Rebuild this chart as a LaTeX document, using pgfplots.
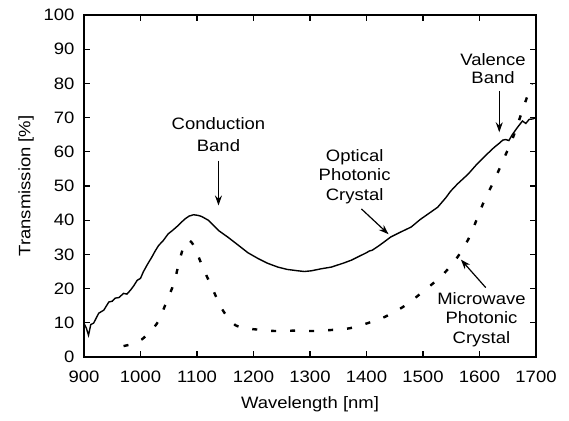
\documentclass[border=0pt]{standalone}
\usepackage{fontspec}
\setmainfont{Liberation Sans}[FakeStretch=1.12]
\usepackage{pgfplots}
\pgfplotsset{compat=1.18}
\usetikzlibrary{arrows.meta}

\pgfplotstableread{
x y
900 9.8
904 8.5
908 6.4
912 9.5
917 9.9
922 11.5
926 12.8
935 13.7
944 16.1
950 16.3
955 17.2
962 17.4
970 18.6
976 18.4
982 19.5
988 20.8
994 22.4
1000 23
1005 24.9
1012 27
1020 29.2
1026 31
1032 32.6
1040 34
1049 36
1058 37.2
1067 38.5
1073 39.5
1079 40.4
1086 41.2
1094 41.6
1102 41.4
1108 41.1
1120 40
1138 37
1155 35
1173 32.7
1190 30.5
1208 28.8
1225 27.4
1243 26.3
1260 25.6
1279 25.2
1290 25
1302 25.2
1314 25.6
1320 25.8
1338 26.3
1349 26.9
1360 27.5
1373 28.3
1384 29.2
1400 30.5
1405 31
1410 31.2
1420 32.3
1430 33.5
1443 35.1
1460 36.5
1479 38
1495 40.2
1514 42.4
1526 43.8
1540 46.5
1549 48.5
1561 50.6
1580 53.5
1596 56.5
1610 58.8
1626 61.3
1635 62.5
1641 63.4
1646 63.6
1652 63.3
1658 65
1667 67.1
1676 69
1682 68.3
1688 69.5
1694 69.6
1700 70
}\optical

\pgfplotstableread{
x y
970 3.2
985 3.8
1002 5.1
1017 7.5
1031 10.3
1046 16.1
1060 22
1068 27.6
1078 33.1
1085 34
1090 33.6
1097 31.7
1110 26.3
1126 20.5
1142 14.7
1155 11.5
1168 9.3
1185 8.4
1202 8.1
1238 7.6
1270 7.7
1305 7.6
1338 7.9
1370 8.4
1402 9.9
1432 11.7
1467 14.9
1499 19
1534 23.9
1561 29.2
1582 35
1596 40.6
1609 45.9
1626 51.6
1641 57.2
1660 64.5
1679 73.6
1693 80
}\microwave

\begin{document}
\begin{tikzpicture}
\begin{axis}[
  scale only axis, width=452bp, height=342bp,
  xmin=900, xmax=1700, ymin=0, ymax=100,
  xtick={900,1000,...,1700}, ytick={0,10,...,100},
  tick align=inside, major tick length=6bp,
  axis line style={line width=1.3bp},
  every tick/.style={line width=1.1bp, black},
  font=\fontsize{16.5bp}{20bp}\selectfont,
  /pgf/number format/assume math mode=true,
  /pgf/number format/1000 sep={},
  xticklabel style={yshift=-10bp},
  yticklabel style={xshift=-6bp},
  xlabel={Wavelength [nm]}, ylabel={Transmission [\%]},
  xlabel style={at={(axis description cs:0.5,-0.1374)}, anchor=center},
  ylabel style={at={(axis description cs:-0.128,0.5)}, anchor=center},
]
\coordinate (bl) at (rel axis cs:0,0);
\coordinate (tr) at (rel axis cs:1,1);
\addplot[black, line width=1.4bp] table[x=x,y=y] {\optical};
\addplot[black, line width=2.4bp, dash pattern=on 5bp off 14bp, smooth, tension=0.5] table[x=x,y=y] {\microwave};

\node[align=center, font=\fontsize{16.5bp}{22bp}\selectfont] at (axis cs:1138,65) {Conduction\\Band};
\draw[line width=1.2bp, -{Stealth[length=10bp,width=7bp]}] (axis cs:1138,57.4) -- (axis cs:1138,44.3);

\node[align=center, font=\fontsize{16.5bp}{19.5bp}\selectfont] at (axis cs:1379,52.8) {Optical\\Photonic\\Crystal};
\draw[line width=1.2bp, -{Stealth[length=10bp,width=7bp]}] (axis cs:1391,43.3) -- (axis cs:1439,35.9);

\node[align=center, font=\fontsize{16.5bp}{18bp}\selectfont] at (axis cs:1624,84.2) {Valence\\Band};
\draw[line width=1.2bp, -{Stealth[length=10bp,width=7bp]}] (axis cs:1635,77.8) -- (axis cs:1635,65.7);

\node[align=center, font=\fontsize{16.5bp}{19.5bp}\selectfont] at (axis cs:1603.5,10.9) {Microwave\\Photonic\\Crystal};
\draw[line width=1.2bp, -{Stealth[length=10bp,width=7bp]}] (axis cs:1611,20.3) -- (axis cs:1567,28.5);
\end{axis}
\pgfresetboundingbox
\path[use as bounding box] ([xshift=-84bp,yshift=-63bp]bl) rectangle ([xshift=33bp,yshift=15bp]tr);
\end{tikzpicture}
\end{document}
